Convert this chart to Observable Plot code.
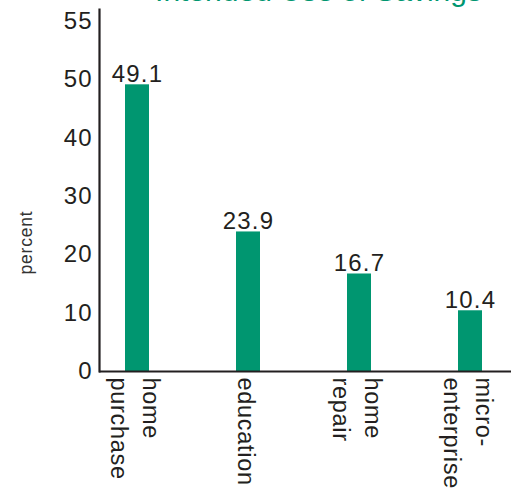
<!DOCTYPE html>
<html>
<head>
<meta charset="utf-8">
<script src="https://cdn.jsdelivr.net/npm/d3@7"></script>
<script src="https://cdn.jsdelivr.net/npm/@observablehq/plot@0.6"></script>
<style>
  html, body { margin: 0; padding: 0; background: #fff; }
  g[aria-label="y-axis tick label"] text { letter-spacing: 1px; }
  g[aria-label="x-axis tick label"] text { letter-spacing: 0.7px; }
  g.vals text { letter-spacing: 1.2px; }
  g.ylab text { letter-spacing: 0.8px; }
</style>
</head>
<body>
<div id="chart"></div>
<script>
const title = "Intended Use of Savings";
const yLabel = "percent";
const categories = ["home purchase", "education", "home repair", "micro-enterprise"];
const categoryLabels = ["home\npurchase", "education", "home\nrepair", "micro-\nenterprise"];
const values = [49.1, 23.9, 16.7, 10.4];
const yTicks = [0, 10, 20, 30, 40, 50, 60];
const yTickLabels = ["0", "10", "20", "30", "40", "50", "55"];

const data = categories.map((c, i) => ({cat: c, value: values[i]}));
const ink = "#231f20";
const green = "#009670";

const chart = Plot.plot({
  width: 516,
  height: 489,
  marginLeft: 99,
  marginRight: 5,
  marginTop: 9,
  marginBottom: 118,
  style: {fontFamily: "'Liberation Sans', Arial, sans-serif", color: ink, background: "#fff"},
  x: {type: "band", domain: categories, paddingInner: 0.785, paddingOuter: 0.2366, align: 0.476, axis: null},
  y: {domain: [0, 62], axis: null},
  marks: [
    Plot.barY(data, {x: "cat", y: "value", fill: green}),
    Plot.text(data, {x: "cat", y: "value", text: d => d.value.toFixed(1), lineAnchor: "bottom", dy: -3, fontSize: 24, fill: ink, className: "vals"}),
    Plot.axisY({ticks: yTicks, tickFormat: (d) => yTickLabels[yTicks.indexOf(d)], tickSize: 0, tickPadding: 7, fontSize: 24, label: null, fill: ink}),
    Plot.axisX({tickSize: 0, tickPadding: 6, tickRotate: 90, fontSize: 23.5, lineHeight: 1.4, label: null, fill: ink,
      tickFormat: (d) => categoryLabels[categories.indexOf(d)]}),
    Plot.ruleY([0], {stroke: ink, strokeWidth: 2.2}),
    Plot.frame({anchor: "left", stroke: ink, strokeWidth: 2.2}),
    Plot.text([yLabel], {frameAnchor: "left", dx: -73, dy: 84, rotate: -90, fontSize: 17.5, fill: "#333", className: "ylab"}),
    Plot.text([title], {frameAnchor: "top", dx: 13, dy: -9, lineAnchor: "bottom", fontSize: 30, fill: green})
  ]
});
document.getElementById("chart").appendChild(chart);
</script>
</body>
</html>
